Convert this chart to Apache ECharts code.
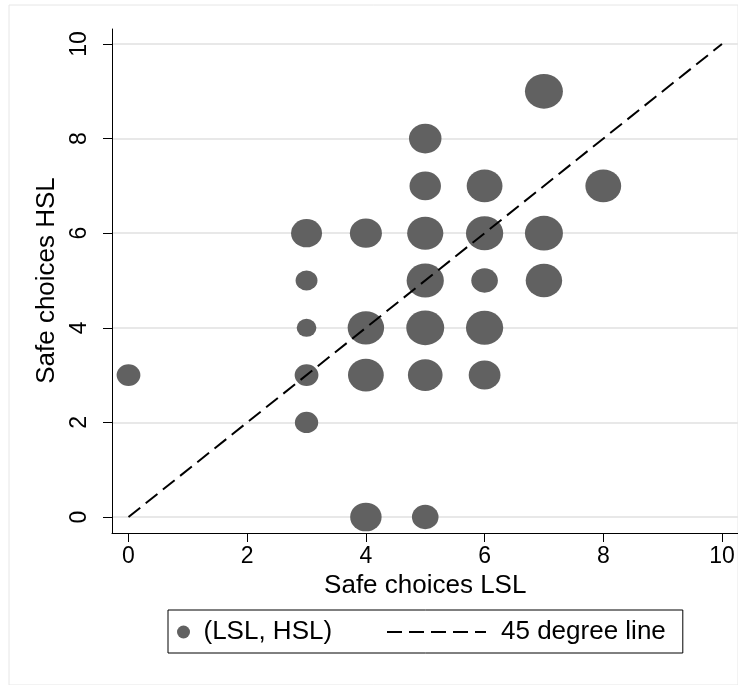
<!DOCTYPE html>
<html>
<head>
<meta charset="utf-8">
<script src="https://cdn.jsdelivr.net/npm/echarts@6/dist/echarts.min.js"></script>
<style>
html,body{margin:0;padding:0;background:#fff;}
#chart{width:738px;height:685px;}
</style>
</head>
<body>
<div id="chart"></div>
<script>
// Data
const lslValues = [7, 5, 5, 6, 8, 3, 4, 5, 6, 7, 3, 5, 6, 7, 3, 4, 5, 6, 0, 3, 4, 5, 6, 3, 4, 5];
const hslValues = [9, 8, 7, 7, 7, 6, 6, 6, 6, 6, 5, 5, 5, 5, 4, 4, 4, 4, 3, 3, 3, 3, 3, 2, 0, 0];
const weights   = [33.4, 24.5, 22.9, 29.7, 29.7, 22.2, 23.8, 30.3, 32.1, 33.4, 11.1, 32.1, 16.4, 30.8, 9.0, 30.8, 33.4, 32.1, 13.1, 13.1, 29.7, 27.9, 23.4, 12.6, 22.9, 16.4];
const lineX = [0, 10];
const lineY = [0, 10];
const xTicks = [0, 2, 4, 6, 8, 10];
const yTicks = [0, 2, 4, 6, 8, 10];
const xTitle = 'Safe choices LSL';
const yTitle = 'Safe choices HSL';
const scatterName = '(LSL, HSL)';
const lineName = '45 degree line';

const FONT = '"Liberation Sans", Arial, Helvetica, sans-serif';
const bubbleColor = '#616161';

const scatterData = lslValues.map((x, i) => [x, hslValues[i], weights[i]]);
const lineData = lineX.map((x, i) => [x, lineY[i]]);

const chart = echarts.init(document.getElementById('chart'), null, {renderer: 'canvas'});

const option = {
  animation: false,
  backgroundColor: '#fff',
  textStyle: {fontFamily: FONT},
  grid: [
    {left: 112, right: 0, top: 29, bottom: 152},
    {left: 128.5, right: 16, top: 29, bottom: 152},
    {left: 112, right: 0, top: 44, bottom: 168},
    {left: 9, right: -10, top: 5, bottom: -10, show: true, borderColor: '#e6e6e6', borderWidth: 1, backgroundColor: 'transparent'}
  ],
  xAxis: [
    {gridIndex: 0, type: 'value', min: -0.278, max: 10.27,
      axisLine: {show: true, onZero: false, lineStyle: {color: '#000', width: 1}},
      axisTick: {show: false}, axisLabel: {show: false}, splitLine: {show: false}},
    {gridIndex: 1, type: 'value', min: 0, max: 10, interval: 2,
      axisLine: {show: false},
      axisTick: {show: true, length: 9, lineStyle: {color: '#000', width: 1}},
      axisLabel: {show: true, margin: 12, fontSize: 23, color: '#000', fontFamily: FONT,
        formatter: v => xTicks.includes(v) ? String(v) : ''},
      splitLine: {show: false},
      name: xTitle, nameLocation: 'middle', nameGap: 35,
      nameTextStyle: {fontSize: 26, color: '#000', fontFamily: FONT}},
    {gridIndex: 2, type: 'value', min: 0, max: 10, show: false},
    {gridIndex: 3, type: 'value', min: 0, max: 1, show: false}
  ],
  yAxis: [
    {gridIndex: 0, type: 'value', min: -0.338, max: 10.317,
      axisLine: {show: true, onZero: false, lineStyle: {color: '#000', width: 1}},
      axisTick: {show: false}, axisLabel: {show: false}, splitLine: {show: false}},
    {gridIndex: 1, type: 'value', min: 0, max: 10, show: false},
    {gridIndex: 2, type: 'value', min: 0, max: 10, interval: 2,
      axisLine: {show: false},
      axisTick: {show: true, length: 9, lineStyle: {color: '#000', width: 1}},
      axisLabel: {show: true, margin: 21, rotate: 90, fontSize: 23, color: '#000', fontFamily: FONT,
        formatter: v => yTicks.includes(v) ? String(v) : ''},
      splitLine: {show: true, lineStyle: {color: '#e8e8e8', width: 2}},
      name: yTitle, nameLocation: 'middle', nameGap: 47,
      nameTextStyle: {fontSize: 26, color: '#000', fontFamily: FONT}},
    {gridIndex: 3, type: 'value', min: 0, max: 1, show: false}
  ],
  legend: [
    {
      data: [{name: lineName, itemStyle: {opacity: 0}}],
      left: 168, top: 610,
      orient: 'horizontal',
      padding: [9, 17, 8, 218],
      borderColor: '#000', borderWidth: 1,
      itemWidth: 99, itemHeight: 14,
      textStyle: {fontSize: 26, color: '#000', fontFamily: FONT, padding: [0, 0, 0, 10]},
      selectedMode: false
    },
    {
      data: [scatterName],
      left: 177, top: 619,
      padding: 0,
      itemWidth: 14, itemHeight: 13,
      textStyle: {fontSize: 26, color: '#000', fontFamily: FONT, padding: [0, 0, 0, 8]},
      selectedMode: false
    }
  ],
  series: [
    {
      name: scatterName,
      type: 'scatter',
      xAxisIndex: 0, yAxisIndex: 0,
      data: scatterData,
      symbol: 'circle',
      symbolSize: function (val) {
        const h = 6 * Math.sqrt(val[2]);
        return [h * 1.095, h];
      },
      itemStyle: {color: bubbleColor, opacity: 1},
      z: 2,
      clip: false
    },
    {
      name: lineName,
      type: 'line',
      xAxisIndex: 0, yAxisIndex: 0,
      data: lineData,
      symbol: 'none',
      lineStyle: {color: '#000', width: 2, type: [15, 7]},
      itemStyle: {color: '#000', opacity: 0},
      z: 3
    }
  ]
};
chart.setOption(option);
</script>
</body>
</html>
